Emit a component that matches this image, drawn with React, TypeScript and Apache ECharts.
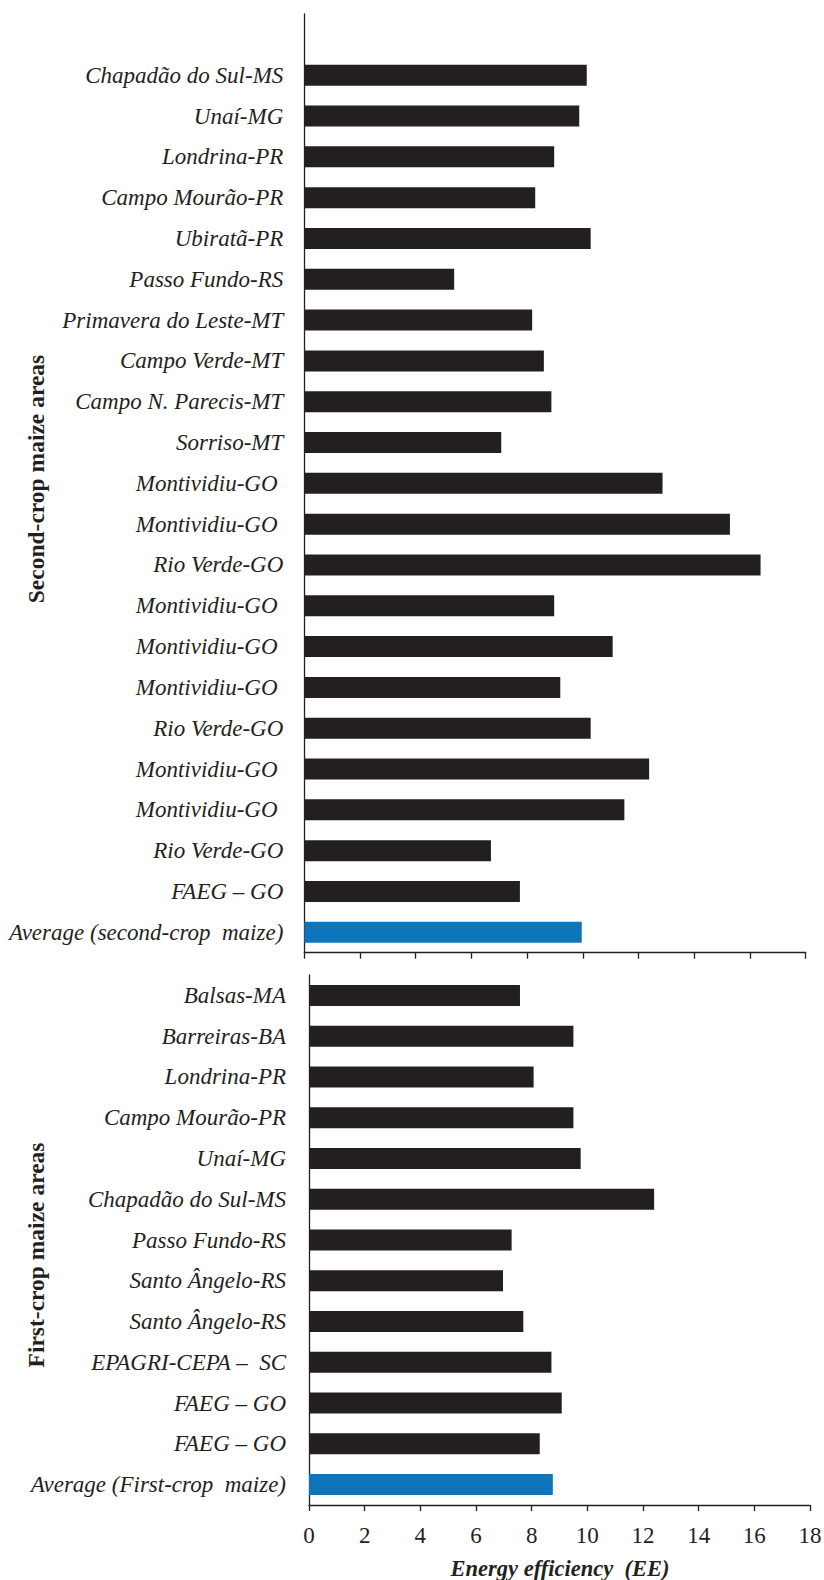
import React, { useEffect, useRef } from "react";
import * as echarts from "echarts";

// Second-crop maize areas (top panel); first entry is an empty slot above the first bar
const secondCropAreas = [
  "",
  "Chapadão do Sul-MS",
  "Unaí-MG",
  "Londrina-PR",
  "Campo Mourão-PR",
  "Ubiratã-PR",
  "Passo Fundo-RS",
  "Primavera do Leste-MT",
  "Campo Verde-MT",
  "Campo N. Parecis-MT",
  "Sorriso-MT",
  "Montividiu-GO ",
  "Montividiu-GO ",
  "Rio Verde-GO",
  "Montividiu-GO ",
  "Montividiu-GO ",
  "Montividiu-GO ",
  "Rio Verde-GO",
  "Montividiu-GO ",
  "Montividiu-GO ",
  "Rio Verde-GO",
  "FAEG – GO",
  "Average (second-crop  maize)",
];
const secondCropEE = [
  null, 10.14, 9.87, 8.97, 8.29, 10.28, 5.38, 8.18, 8.6, 8.87, 7.07, 12.86,
  15.28, 16.38, 8.97, 11.07, 9.19, 10.28, 12.38, 11.49, 6.7, 7.74, 9.96,
];

// First-crop maize areas (bottom panel)
const firstCropAreas = [
  "Balsas-MA",
  "Barreiras-BA",
  "Londrina-PR",
  "Campo Mourão-PR",
  "Unaí-MG",
  "Chapadão do Sul-MS",
  "Passo Fundo-RS",
  "Santo Ângelo-RS",
  "Santo Ângelo-RS",
  "EPAGRI-CEPA –  SC",
  "FAEG – GO",
  "FAEG – GO",
  "Average (First-crop  maize)",
];
const firstCropEE = [
  7.58, 9.5, 8.07, 9.5, 9.76, 12.4, 7.28, 6.97, 7.7, 8.71, 9.08, 8.29, 8.76,
];

const eeMin = 0;
const eeMax = 18;
const eeStep = 2;

const xTitle = "Energy efficiency  (EE)";
const topTitle = "Second-crop maize areas";
const bottomTitle = "First-crop maize areas";

const INK = "#231f20";
const BLUE = "#0e75bb";
const SERIF = "'Liberation Serif', 'Times New Roman', serif";

function barData(values: (number | null)[]) {
  return values.map((v, i) =>
    i === values.length - 1 ? { value: v, itemStyle: { color: BLUE } } : v
  );
}

export default function App() {
  const ref = useRef<HTMLDivElement>(null);

  useEffect(() => {
    if (!ref.current) return;
    const chart = echarts.init(ref.current, null, { renderer: "svg" });

    const axisLine = { show: true, lineStyle: { color: INK, width: 1.3 } };
    const catLabel = (margin: number) => ({
      fontFamily: SERIF,
      fontStyle: "italic" as const,
      fontSize: 23,
      color: INK,
      margin,
    });
    const titleStyle = (text: string) => ({
      text,
      fontFamily: SERIF,
      fontWeight: "bold",
      fontSize: 23.5,
      fill: INK,
      textAlign: "center",
      textVerticalAlign: "middle",
    });

    chart.setOption({
      animation: false,
      backgroundColor: "#ffffff",
      grid: [
        { left: 304.3, top: 14, width: 501.4, height: 938.7, outerBoundsMode: "none", containLabel: false },
        { left: 309, top: 975, width: 501, height: 530, outerBoundsMode: "none", containLabel: false },
      ],
      xAxis: [
        {
          type: "value",
          gridIndex: 0,
          min: eeMin,
          max: eeMax,
          interval: eeStep,
          axisLine,
          axisTick: { show: true, length: 6, lineStyle: { color: INK, width: 1.3 } },
          axisLabel: { show: false },
          splitLine: { show: false },
        },
        {
          type: "value",
          gridIndex: 1,
          min: eeMin,
          max: eeMax,
          interval: eeStep,
          axisLine,
          axisTick: { show: true, length: 6, lineStyle: { color: INK, width: 1.3 } },
          axisLabel: { fontFamily: SERIF, fontSize: 23, color: INK, margin: 19 },
          splitLine: { show: false },
        },
      ],
      yAxis: [
        {
          type: "category",
          gridIndex: 0,
          inverse: true,
          data: secondCropAreas,
          axisLine,
          axisTick: { show: false },
          axisLabel: catLabel(21),
        },
        {
          type: "category",
          gridIndex: 1,
          inverse: true,
          data: firstCropAreas,
          axisLine,
          axisTick: { show: false },
          axisLabel: catLabel(23),
        },
      ],
      series: [
        {
          type: "bar",
          xAxisIndex: 0,
          yAxisIndex: 0,
          data: barData(secondCropEE),
          barWidth: 21,
          itemStyle: { color: INK },
        },
        {
          type: "bar",
          xAxisIndex: 1,
          yAxisIndex: 1,
          data: barData(firstCropEE),
          barWidth: 21,
          itemStyle: { color: INK },
        },
      ],
      graphic: [
        {
          type: "text",
          x: 36,
          y: 479,
          rotation: Math.PI / 2,
          style: titleStyle(topTitle),
        },
        {
          type: "text",
          x: 36,
          y: 1255,
          rotation: Math.PI / 2,
          style: titleStyle(bottomTitle),
        },
        {
          type: "text",
          x: 560,
          y: 1568,
          style: {
            text: xTitle,
            fontFamily: SERIF,
            fontWeight: "bold",
            fontStyle: "italic",
            fontSize: 22.5,
            fill: INK,
            textAlign: "center",
            textVerticalAlign: "middle",
          },
        },
      ],
    });

    return () => chart.dispose();
  }, []);

  return (
    <div
      ref={ref}
      style={{ position: "absolute", left: 0, top: 0, width: 824, height: 1580 }}
    />
  );
}
